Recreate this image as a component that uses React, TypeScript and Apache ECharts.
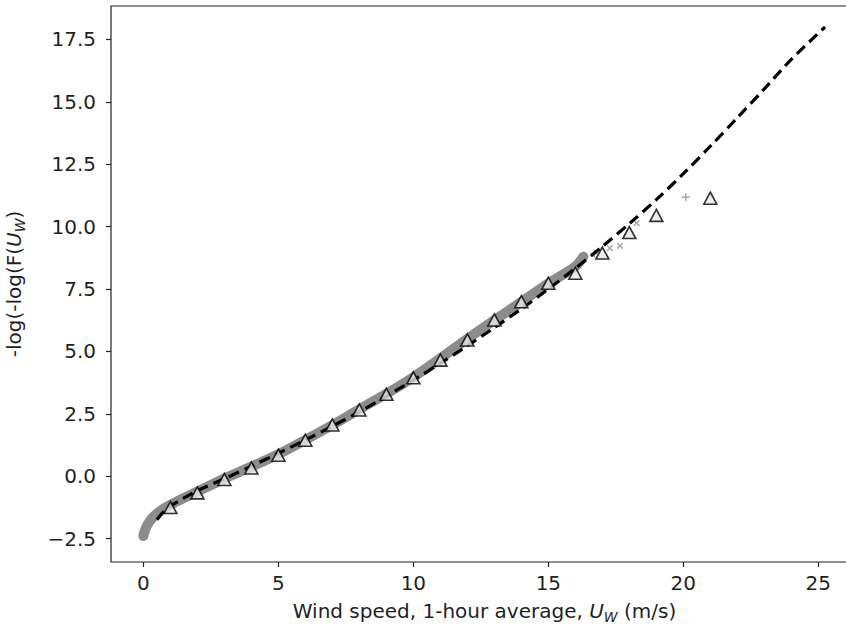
import React, { useEffect, useRef } from 'react';
import * as echarts from 'echarts';

const xTicks = [0, 5, 10, 15, 20, 25];
const yTicks = [-2.5, 0, 2.5, 5, 7.5, 10, 12.5, 15, 17.5];

// Observed points, binned (triangles)
const triX = [1, 2, 3, 4, 5, 6, 7, 8, 9, 10, 11, 12, 13, 14, 15, 16, 17, 18, 19, 21];
const triY = [-1.26, -0.67, -0.13, 0.33, 0.84, 1.44, 2.05, 2.65, 3.28, 3.94, 4.65, 5.46, 6.26, 6.99, 7.73, 8.13, 8.94, 9.76, 10.45, 11.14];

// Dense empirical points (grey band)
const bandX = [0, 0.05, 0.15, 0.3, 0.5, 0.75, 1, 1.5, 2, 3, 4, 5, 6, 7, 8, 9, 10, 11, 12, 13, 14, 15, 16, 16.3];
const bandY = [-2.4, -2.2, -1.95, -1.72, -1.5, -1.3, -1.15, -0.88, -0.62, -0.1, 0.38, 0.88, 1.45, 2.05, 2.68, 3.3, 3.97, 4.72, 5.5, 6.25, 6.98, 7.72, 8.4, 8.8];

// Sparse empirical tail
const plusX = [16.7, 20.09];
const plusY = [8.92, 11.18];
const crossX = [17.28, 17.65, 18.27];
const crossY = [9.14, 9.23, 10.14];

// Fitted distribution (dashed)
const fitX = [0.5, 0.75, 1, 1.5, 2, 3, 4, 5, 6, 7, 8, 9, 10, 11, 12, 13, 14, 15, 16, 17, 18, 19, 20, 21, 22, 23, 24, 25.25];
const fitY = [-1.75, -1.42, -1.2, -0.88, -0.58, -0.1, 0.4, 0.92, 1.45, 2.0, 2.58, 3.2, 3.85, 4.52, 5.22, 5.95, 6.7, 7.5, 8.33, 9.2, 10.12, 11.08, 12.12, 13.22, 14.36, 15.52, 16.7, 18.0];

const zip = (xs: number[], ys: number[]) => xs.map((x, i) => [x, ys[i]]);

const FONT = "'DejaVu Sans', sans-serif";
const TXT = '#1f1f1f';

const PLUS = 'path://M4,0h2v10h-2z M0,4h10v2h-10z';

export default function App() {
  const ref = useRef<HTMLDivElement>(null);
  useEffect(() => {
    document.body.style.margin = '0';
    const chart = echarts.init(ref.current!, null, { renderer: 'svg' });
    const rich = {
      a: { fontSize: 20, fontFamily: FONT, color: TXT, lineHeight: 26 },
      i: { fontSize: 20, fontFamily: FONT, color: TXT, fontStyle: 'italic', lineHeight: 26 },
      s: { fontSize: 14, fontFamily: FONT, color: TXT, fontStyle: 'italic', verticalAlign: 'bottom', lineHeight: 14, padding: [8, 0, 0, 0] },
    };
    chart.setOption({
      animation: false,
      backgroundColor: '#fff',
      grid: {
        left: 111, top: 6, bottom: 71, right: -12,
        outerBoundsMode: 'none',
        containLabel: false,
        show: true, borderColor: '#222', borderWidth: 1.2, backgroundColor: 'transparent',
      },
      xAxis: {
        type: 'value', min: -1.2, max: 26.47,
        axisLine: { show: false, onZero: false },
        splitLine: { show: false },
        axisTick: { show: true, inside: false, length: 5, customValues: xTicks, lineStyle: { color: '#222', width: 1.2 } },
        axisLabel: {
          customValues: xTicks, margin: 11, fontSize: 20, fontFamily: FONT, color: TXT,
          formatter: (v: number) => String(v),
        },
        name: '{a|Wind speed, 1-hour average, }{i|U}{s|W}{a| (m/s)}',
        nameLocation: 'middle', nameGap: 36,
        nameTextStyle: { rich },
      },
      yAxis: {
        type: 'value', min: -3.44, max: 18.84,
        axisLine: { show: false, onZero: false },
        splitLine: { show: false },
        axisTick: { show: true, inside: false, length: 5, customValues: yTicks, lineStyle: { color: '#222', width: 1.2 } },
        axisLabel: {
          customValues: yTicks, margin: 15, fontSize: 20, fontFamily: FONT, color: TXT,
          formatter: (v: number) => v.toFixed(1).replace('-', '\u2212'),
        },
        name: '{a|-log(-log(F(}{i|U}{s|W}{a|)}',
        nameLocation: 'middle', nameGap: 84, nameRotate: 90,
        nameTextStyle: { rich },
      },
      series: [
        {
          type: 'line', data: zip(bandX, bandY), smooth: 0.3, showSymbol: false, z: 1,
          lineStyle: { color: '#8c8c8c', width: 10, cap: 'round', join: 'round' },
        },
        {
          type: 'scatter', data: zip(plusX, plusY), symbol: PLUS, symbolSize: 8, z: 2,
          itemStyle: { color: '#999' },
        },
        {
          type: 'scatter', data: zip(crossX, crossY), symbol: PLUS, symbolSize: 8, symbolRotate: 45, z: 2,
          itemStyle: { color: '#999' },
        },
        {
          type: 'line', data: zip(fitX, fitY), smooth: 0.3, showSymbol: false, z: 3,
          lineStyle: { color: '#000', width: 3.2, type: [11, 6], cap: 'butt' },
        },
        {
          type: 'scatter', data: zip(triX, triY), symbol: 'triangle', symbolSize: [13, 12], z: 4,
          itemStyle: { color: '#e8e8e8', borderColor: '#000', borderWidth: 1.6 },
        },
      ],
    });
    return () => chart.dispose();
  }, []);
  return <div ref={ref} style={{ width: 846, height: 633 }} />;
}
